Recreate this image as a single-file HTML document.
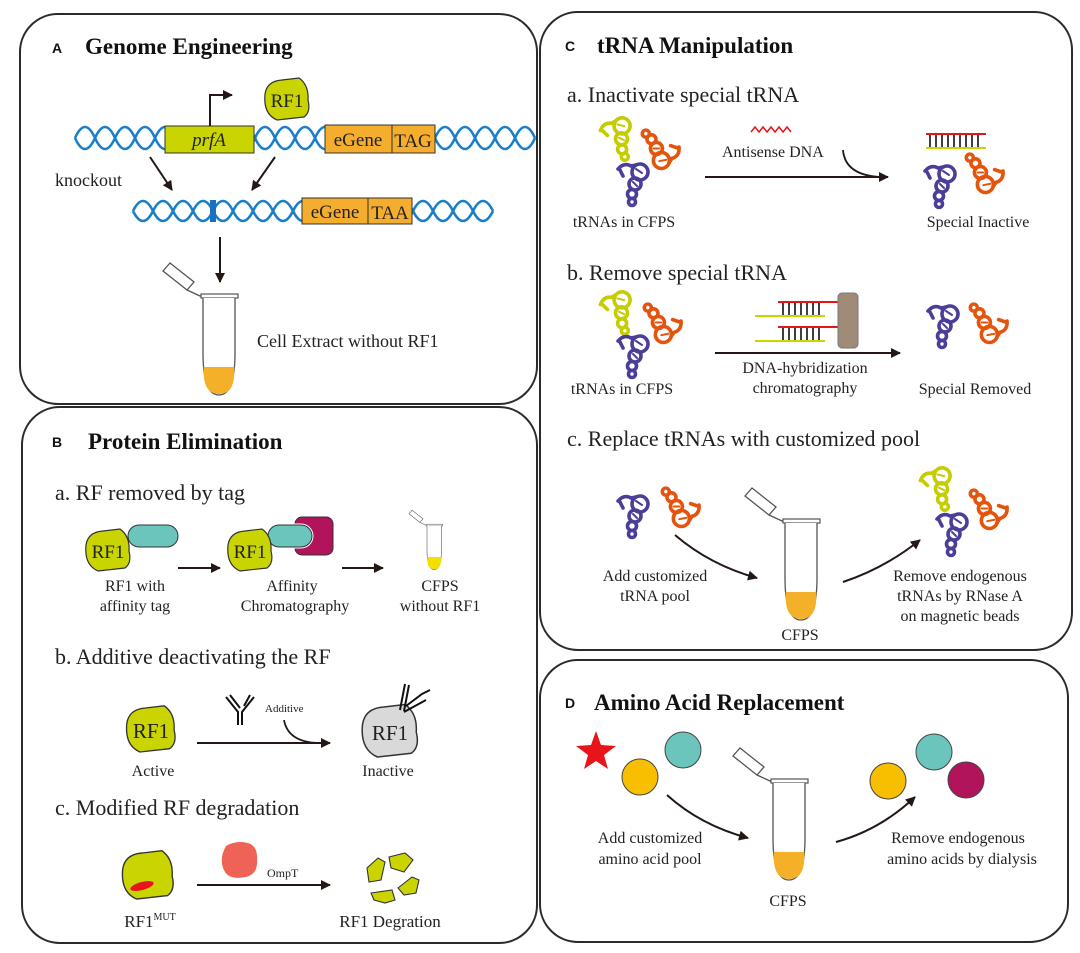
<!DOCTYPE html>
<html><head><meta charset="utf-8"><style>
html,body{margin:0;padding:0;background:#fff}
svg{display:block}
text{font-family:"Liberation Serif",serif;fill:#222}
.h{font-weight:bold;font-size:23px;fill:#111}
.l{font-family:"Liberation Sans",sans-serif;font-weight:bold;font-size:14px;fill:#111}
.s{font-size:22px;fill:#222}
.t{font-size:16px}
</style></head><body>
<svg width="1080" height="953" viewBox="0 0 1080 953" xmlns="http://www.w3.org/2000/svg">
<defs>
<marker id="ar" viewBox="0 0 10 10" refX="9" refY="5" markerWidth="5" markerHeight="5" orient="auto"><path d="M0 0L10 5L0 10z" fill="#231815"/></marker>
<g id="tr" fill="none" stroke="currentColor" stroke-width="3.6" stroke-linecap="round">
<path d="M0 7 Q6 0 13 4 L18 3"/><path d="M2 8 L5 14"/>
<circle cx="22" cy="10" r="8"/><circle cx="17" cy="22" r="6"/><circle cx="14" cy="32" r="4.5"/><circle cx="14" cy="40" r="3.5"/>
<path d="M18 7 l6 4 M15 20 l4 4" stroke-width="2"/>
</g>
<path id="blob" d="M-22 -6 Q-20 -19 -5 -20 L12 -22 Q22 -15 21 0 Q24 12 17 17 L-10 20 Q-24 14 -22 -6Z" stroke="#333" stroke-width="1.2"/>
<g id="tube">
<polygon points="-40,-27 -33,-35 -9,-16 -16,-8" fill="#fff" stroke="#555" stroke-width="1.3"/>
<path d="M-16 -8 L-3 -2 L0 -3" fill="none" stroke="#555" stroke-width="1.3"/>
<rect x="-2" y="-4" width="37" height="4" fill="#fff" stroke="#555" stroke-width="1.2"/>
<path d="M0 0 V55 Q0 97 16 97 Q32 97 32 55 V0" fill="#fff" stroke="#555" stroke-width="1.3"/>
</g>
<path id="liq" d="M0.7 69 H31.3 V75 Q31 96 16 96 Q1 96 0.7 75Z"/>
</defs>

<!-- panels -->
<g fill="none" stroke="#2b2b2b" stroke-width="2">
<rect x="20" y="14" width="517" height="390" rx="38"/>
<rect x="22" y="407" width="515" height="536" rx="38"/>
<rect x="540" y="12" width="532" height="638" rx="38"/>
<rect x="540" y="660" width="528" height="282" rx="38"/>
</g>

<!-- ===== A ===== -->
<text x="52" y="53" class="l">A</text><text x="85" y="54" class="h">Genome Engineering</text>
<g fill="none" stroke="#1a7fc8" stroke-width="2.6">
<path d="M75 138 q10 -22 20 0 t20 0 t20 0 t20 0 t20 0 t20 0 t20 0 t20 0 t20 0 t20 0 t20 0 t20 0 t20 0 t20 0 t20 0 t20 0 t20 0 t20 0 t20 0 t20 0 t20 0 t20 0 t20 0"/>
<path d="M75 138 q10 22 20 0 t20 0 t20 0 t20 0 t20 0 t20 0 t20 0 t20 0 t20 0 t20 0 t20 0 t20 0 t20 0 t20 0 t20 0 t20 0 t20 0 t20 0 t20 0 t20 0 t20 0 t20 0 t20 0"/>
<path d="M133 211 q10 -20 20 0 t20 0 t20 0 t20 0 t20 0 t20 0 t20 0 t20 0 t20 0 t20 0 t20 0 t20 0 t20 0 t20 0 t20 0 t20 0 t20 0 t20 0"/>
<path d="M133 211 q10 20 20 0 t20 0 t20 0 t20 0 t20 0 t20 0 t20 0 t20 0 t20 0 t20 0 t20 0 t20 0 t20 0 t20 0 t20 0 t20 0 t20 0 t20 0"/>
</g>
<rect x="165" y="126" width="89" height="27" fill="#c9d400" stroke="#333"/>
<text x="209" y="146" text-anchor="middle" font-style="italic" font-size="19">prfA</text>
<rect x="325" y="125" width="67" height="28" fill="#f5ad2e" stroke="#333"/><rect x="392" y="125" width="43" height="28" fill="#f5ad2e" stroke="#333"/>
<text x="358" y="146" text-anchor="middle" font-size="19">eGene</text><text x="413" y="147" text-anchor="middle" font-size="19">TAG</text>
<path d="M210 126 V95 H232" fill="none" stroke="#231815" stroke-width="2" marker-end="url(#ar)"/>
<use href="#blob" x="287" y="100" fill="#c9d400"/>
<text x="287" y="107" text-anchor="middle" font-size="19">RF1</text>
<text x="55" y="186" font-size="18">knockout</text>
<path d="M150 157 L172 190" stroke="#231815" stroke-width="2" marker-end="url(#ar)"/>
<path d="M275 157 L252 190" stroke="#231815" stroke-width="2" marker-end="url(#ar)"/>
<rect x="210" y="200" width="6" height="22" fill="#1a6fc0"/>
<rect x="302" y="198" width="66" height="26" fill="#f5ad2e" stroke="#333"/><rect x="368" y="198" width="44" height="26" fill="#f5ad2e" stroke="#333"/>
<text x="335" y="218" text-anchor="middle" font-size="19">eGene</text><text x="390" y="219" text-anchor="middle" font-size="19">TAA</text>
<path d="M220 237 V282" stroke="#231815" stroke-width="2" marker-end="url(#ar)"/>
<g transform="translate(203,298)"><use href="#tube"/><use href="#liq" fill="#f5b02a"/></g>
<text x="257" y="347" font-size="18">Cell Extract without RF1</text>

<!-- ===== B ===== -->
<text x="52" y="447" class="l">B</text><text x="88" y="449" class="h">Protein Elimination</text>
<text x="55" y="500" class="s">a. RF removed by tag</text>
<rect x="128" y="525" width="50" height="22" rx="11" fill="#6cc5bd" stroke="#333"/>
<use href="#blob" x="108" y="551" fill="#c9d400"/>
<text x="108" y="558" text-anchor="middle" font-size="19">RF1</text>
<rect x="295" y="517" width="38" height="38" rx="7" fill="#b2145c" stroke="#333"/>
<rect x="268" y="525" width="44" height="22" rx="11" fill="#6cc5bd" stroke="#fff" stroke-width="3"/>
<rect x="268" y="525" width="44" height="22" rx="11" fill="#6cc5bd" stroke="#333"/>
<use href="#blob" x="250" y="551" fill="#c9d400"/>
<text x="250" y="558" text-anchor="middle" font-size="19">RF1</text>
<path d="M178 568 H220" stroke="#231815" stroke-width="2" marker-end="url(#ar)"/>
<path d="M342 568 H383" stroke="#231815" stroke-width="2" marker-end="url(#ar)"/>
<g transform="translate(427,526) scale(0.45)"><use href="#tube"/><use href="#liq" fill="#f3e000"/></g>
<g class="t" text-anchor="middle"><text x="135" y="591">RF1 with</text><text x="135" y="611">affinity tag</text>
<text x="292" y="591">Affinity</text><text x="295" y="611">Chromatography</text>
<text x="440" y="591">CFPS</text><text x="440" y="611">without RF1</text></g>
<text x="55" y="664" class="s">b. Additive deactivating the RF</text>
<use href="#blob" x="151" y="730" fill="#c9d400" transform="translate(151,730) scale(1.1) translate(-151,-730)"/>
<text x="151" y="738" text-anchor="middle" font-size="21">RF1</text>
<path d="M197 743 H330" stroke="#231815" stroke-width="2" marker-end="url(#ar)"/>
<g fill="none" stroke="#111" stroke-width="2"><path d="M238 725 V712 L226 697 M242 725 V712 L254 697 M230 695 L240 708 M250 695 L244 706"/></g>
<text x="265" y="712" font-size="11">Additive</text>
<path d="M284 720 Q288 742 318 743" fill="none" stroke="#231815" stroke-width="1.8"/>
<use href="#blob" x="390" y="732" fill="#d9d9d9" transform="translate(390,732) scale(1.25) translate(-390,-732)"/>
<text x="390" y="740" text-anchor="middle" font-size="21" fill="#333">RF1</text>
<g fill="none" stroke="#111" stroke-width="2"><path d="M400 710 L405 684 M404 711 L409 685 M406 706 L422 694 L430 690 M404 712 L426 700"/></g>
<g class="t" text-anchor="middle" font-size="17"><text x="153" y="776">Active</text><text x="388" y="776">Inactive</text></g>
<text x="55" y="815" class="s">c. Modified RF degradation</text>
<use href="#blob" x="148" y="876" fill="#c9d400" transform="translate(148,876) scale(1.15) translate(-148,-876)"/>
<ellipse cx="142" cy="886" rx="12" ry="4" fill="#e8141a" transform="rotate(-15 142 886)"/>
<path d="M197 885 H330" stroke="#231815" stroke-width="2" marker-end="url(#ar)"/>
<path d="M226 846 Q236 840 248 843 Q258 846 257 860 Q258 874 246 877 Q230 880 225 872 Q218 860 226 846Z" fill="#ee6355"/>
<text x="267" y="877" font-size="12">OmpT</text>
<g fill="#c9d400" stroke="#333" stroke-width="1.1">
<path d="M367 868 L378 858 L385 862 L381 880 L369 882Z"/>
<path d="M389 857 L405 853 L413 860 L404 872 L391 868Z"/>
<path d="M398 888 L412 877 L419 880 L416 893 L404 895Z"/>
<path d="M371 893 L392 890 L395 900 L385 903 L374 900Z"/>
</g>
<text x="150" y="927" font-size="17" text-anchor="middle">RF1<tspan font-size="10" dy="-7">MUT</tspan></text>
<text x="390" y="927" font-size="17" text-anchor="middle">RF1 Degration</text>

<!-- ===== C ===== -->
<text x="565" y="51" class="l">C</text><text x="597" y="53" class="h">tRNA Manipulation</text>
<text x="567" y="102" class="s">a. Inactivate special tRNA</text>
<use href="#tr" color="#c5cc00" transform="translate(598,124) rotate(-20)"/>
<use href="#tr" color="#e3550e" transform="translate(684,152) rotate(135)"/>
<use href="#tr" color="#4a3e98" transform="translate(618,162)"/>
<path d="M705 177 H888" stroke="#231815" stroke-width="2" marker-end="url(#ar)"/>
<path d="M751 132 l4 -5 4 5 4 -5 4 5 4 -5 4 5 4 -5 4 5 4 -5 4 5" fill="none" stroke="#e8141a" stroke-width="1.5"/>
<text x="722" y="157" font-size="16">Antisense DNA</text>
<path d="M843 150 Q845 175 880 177" fill="none" stroke="#231815" stroke-width="1.8"/>
<line x1="926" y1="134" x2="986" y2="134" stroke="#e8141a" stroke-width="2"/>
<line x1="926" y1="148" x2="986" y2="148" stroke="#c9d400" stroke-width="2"/>
<path d="M930 135v12M936 135v12M942 135v12M948 135v12M954 135v12M960 135v12M966 135v12M972 135v12M978 135v12" stroke="#111" stroke-width="1.6"/>
<use href="#tr" color="#4a3e98" transform="translate(925,164)"/>
<use href="#tr" color="#e3550e" transform="translate(1008,176) rotate(135)"/>
<g font-size="16" text-anchor="middle"><text x="624" y="227">tRNAs in CFPS</text><text x="978" y="227">Special Inactive</text></g>
<text x="567" y="280" class="s">b. Remove special tRNA</text>
<use href="#tr" color="#c5cc00" transform="translate(598,298) rotate(-20)"/>
<use href="#tr" color="#e3550e" transform="translate(686,326) rotate(135)"/>
<use href="#tr" color="#4a3e98" transform="translate(618,334)"/>
<path d="M715 353 H900" stroke="#231815" stroke-width="2" marker-end="url(#ar)"/>
<g stroke-width="2"><line x1="778" y1="302" x2="840" y2="302" stroke="#e8141a"/><line x1="755" y1="316" x2="825" y2="316" stroke="#c9d400"/>
<line x1="778" y1="327" x2="840" y2="327" stroke="#e8141a"/><line x1="755" y1="341" x2="825" y2="341" stroke="#c9d400"/></g>
<path d="M783 303v12M789 303v12M795 303v12M801 303v12M807 303v12M813 303v12M819 303v12M783 328v12M789 328v12M795 328v12M801 328v12M807 328v12M813 328v12M819 328v12" stroke="#111" stroke-width="1.6"/>
<rect x="838" y="293" width="20" height="55" rx="4" fill="#a08b78" stroke="#777"/>
<use href="#tr" color="#4a3e98" transform="translate(928,304)"/>
<use href="#tr" color="#e3550e" transform="translate(1012,326) rotate(135)"/>
<g font-size="16" text-anchor="middle"><text x="805" y="373">DNA-hybridization</text><text x="805" y="393">chromatography</text>
<text x="622" y="394">tRNAs in CFPS</text><text x="975" y="394">Special Removed</text></g>
<text x="567" y="446" class="s">c. Replace tRNAs with customized pool</text>
<use href="#tr" color="#4a3e98" transform="translate(618,494)"/>
<use href="#tr" color="#e3550e" transform="translate(704,510) rotate(135)"/>
<path d="M675 535 Q710 565 757 578" fill="none" stroke="#231815" stroke-width="2" marker-end="url(#ar)"/>
<g transform="translate(785,523)"><use href="#tube"/><use href="#liq" fill="#f5b02a"/></g>
<path d="M843 582 Q885 568 920 540" fill="none" stroke="#231815" stroke-width="2" marker-end="url(#ar)"/>
<use href="#tr" color="#c5cc00" transform="translate(918,474) rotate(-20)"/>
<use href="#tr" color="#e3550e" transform="translate(1012,512) rotate(135)"/>
<use href="#tr" color="#4a3e98" transform="translate(937,512)"/>
<g font-size="16" text-anchor="middle"><text x="655" y="581">Add customized</text><text x="655" y="601">tRNA pool</text>
<text x="800" y="640">CFPS</text>
<text x="960" y="581">Remove endogenous</text><text x="960" y="601">tRNAs by RNase A</text><text x="960" y="621">on magnetic beads</text></g>

<!-- ===== D ===== -->
<text x="565" y="708" class="l">D</text><text x="594" y="710" class="h">Amino Acid Replacement</text>
<polygon points="596,733 601,747 616,748 604,757 608,771 596,763 584,771 588,757 576,748 591,747" fill="#e8141a" transform="translate(0,-2)"/>
<circle cx="640" cy="777" r="18" fill="#f8bf00" stroke="#444" stroke-width="1"/>
<circle cx="683" cy="750" r="18" fill="#6cc5bd" stroke="#444" stroke-width="1"/>
<path d="M667 795 Q700 825 748 838" fill="none" stroke="#231815" stroke-width="2" marker-end="url(#ar)"/>
<g transform="translate(773,783)"><use href="#tube"/><use href="#liq" fill="#f5b02a"/></g>
<path d="M836 842 Q880 830 915 797" fill="none" stroke="#231815" stroke-width="2" marker-end="url(#ar)"/>
<circle cx="888" cy="781" r="18" fill="#f8bf00" stroke="#444" stroke-width="1"/>
<circle cx="934" cy="752" r="18" fill="#6cc5bd" stroke="#444" stroke-width="1"/>
<circle cx="966" cy="780" r="18" fill="#b2145c" stroke="#444" stroke-width="1"/>
<g font-size="16" text-anchor="middle"><text x="650" y="843">Add customized</text><text x="650" y="864">amino acid pool</text>
<text x="788" y="906">CFPS</text>
<text x="958" y="843">Remove endogenous</text><text x="962" y="864">amino acids by dialysis</text></g>
</svg>
</body></html>
